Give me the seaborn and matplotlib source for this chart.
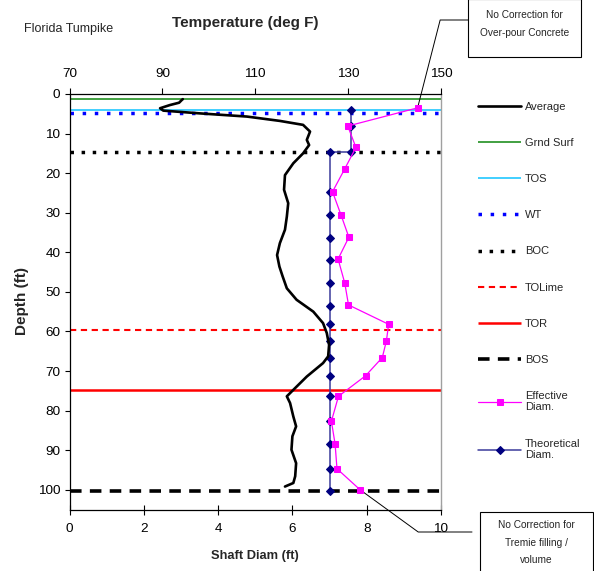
import matplotlib
matplotlib.use("Agg")
import matplotlib.pyplot as plt
import seaborn as sns
from matplotlib.patches import Rectangle

# ---------------- data ----------------
avg_temp = [94.4, 94.2, 93.6, 91.6, 89.5, 90.2, 98.1, 108.2, 115.3, 120.3, 121.8, 121.1,
            121.6, 120.3, 118.2, 116.4, 116.2, 117.1, 116.8, 116.4, 115.3, 114.7, 115.2,
            115.9, 116.8, 118.9, 122.5, 124.6, 125.4, 125.9, 125.7, 124.6, 121.1, 118.6,
            116.8, 117.5, 118.2, 118.8, 118.0, 117.8, 118.8, 118.6, 118.2, 116.4]
avg_depth = [1.3, 1.5, 2.2, 2.8, 3.6, 4.2, 4.9, 5.7, 6.8, 7.8, 9.5, 11.6,
             12.9, 15.0, 17.5, 20.5, 24.2, 27.6, 31.0, 34.3, 37.7, 40.7, 43.6,
             46.1, 49.1, 52.0, 55.0, 57.9, 60.4, 63.4, 66.3, 68.0, 71.4, 74.3,
             76.4, 78.1, 81.5, 84.0, 86.5, 89.9, 93.3, 96.6, 98.3, 99.2]

eff_depth = [3.5, 8.1, 13.5, 18.9, 24.7, 30.6, 36.2, 41.7, 47.8, 53.3,
             58.2, 62.4, 66.6, 71.2, 76.4, 82.7, 88.5, 94.7, 100.0]
eff_diam = [9.37, 7.49, 7.71, 7.41, 7.08, 7.31, 7.52, 7.23, 7.41, 7.51,
            8.59, 8.53, 8.42, 7.97, 7.24, 7.05, 7.15, 7.20, 7.82]

theo_depth = [4.0, 8.2, 14.6, 14.6, 24.8, 30.7, 36.3, 41.9, 47.8, 53.5,
              58.2, 62.5, 66.7, 71.3, 76.4, 82.7, 88.5, 94.7, 100.2]
theo_diam = [7.58, 7.58, 7.58, 7.0, 7.0, 7.0, 7.0, 7.0, 7.0, 7.0,
             7.0, 7.0, 7.0, 7.0, 7.0, 7.0, 7.0, 7.0, 7.0]

ref_names = ["Grnd Surf", "TOS", "WT", "BOC", "TOLime", "TOR", "BOS"]
ref_depths = [1.2, 4.0, 4.9, 14.6, 59.6, 74.7, 100.3]

temp_ticks = [70, 90, 110, 130, 150]
diam_ticks = [0, 2, 4, 6, 8, 10]
depth_ticks = [0, 10, 20, 30, 40, 50, 60, 70, 80, 90, 100]

# ---------------- styling ----------------
sns.set_style("white")
plt.rcParams["font.family"] = ["Liberation Sans", "DejaVu Sans"]

W, H = 594, 571
fig = plt.figure(figsize=(W / 100, H / 100), dpi=100)
L, R, T, B = 69.5, 441, 94, 509.5
ax = fig.add_axes([L / W, 1 - B / H, (R - L) / W, (B - T) / H])
ax2 = ax.twiny()

ref_styles = {
    "Grnd Surf": dict(color="#339933", lw=1.3, ls="-"),
    "TOS": dict(color="#33CCFF", lw=1.3, ls="-"),
    "WT": dict(color="#0000FF", lw=2.5, ls=(0, (1, 2.5))),
    "BOC": dict(color="#000000", lw=2.5, ls=(0, (1, 2.2))),
    "TOLime": dict(color="#FF0000", lw=1.5, ls=(0, (3, 2.2))),
    "TOR": dict(color="#FF0000", lw=1.8, ls="-"),
    "BOS": dict(color="#000000", lw=2.6, ls=(0, (3.2, 2.3))),
}

handles = {}
for name, d in zip(ref_names, ref_depths):
    st = ref_styles[name]
    handles[name] = ax.axhline(d, color=st["color"], lw=st["lw"], ls=st["ls"],
                               dash_capstyle="butt", solid_capstyle="butt", zorder=2)

sns.lineplot(x=theo_diam, y=theo_depth, ax=ax, sort=False, estimator=None,
             color="#3B3B9B", lw=1.1, marker="D", markersize=4.2,
             markerfacecolor="#000080", markeredgecolor="#000080", zorder=4)
handles["Theoretical\nDiam."] = ax.lines[-1]
sns.lineplot(x=eff_diam, y=eff_depth, ax=ax, sort=False, estimator=None,
             color="#FF00FF", lw=0.9, marker="s", markersize=4.6,
             markerfacecolor="#FF00FF", markeredgecolor="#FF00FF", zorder=5)
handles["Effective\nDiam."] = ax.lines[-1]

sns.lineplot(x=avg_temp, y=avg_depth, ax=ax2, sort=False, estimator=None,
             color="black", lw=1.9, zorder=6)
handles["Average"] = ax2.lines[-1]

ax.set_xlim(0, 10)
ax.set_ylim(105, 0)
ax2.set_xlim(70, 150)
ax.set_xticks(diam_ticks)
ax.set_xticklabels([str(v) for v in diam_ticks])
ax.set_yticks(depth_ticks)
ax.set_yticklabels([str(v) for v in depth_ticks])
ax2.set_xticks(temp_ticks)
ax2.set_xticklabels([str(v) for v in temp_ticks])

for s in ["left", "bottom"]:
    ax.spines[s].set_color("black")
    ax.spines[s].set_linewidth(0.9)
ax.spines["top"].set_visible(False)
ax.spines["right"].set_color("#A0A0A0")
ax.spines["right"].set_linewidth(1.0)
for s in ["left", "bottom", "right"]:
    ax2.spines[s].set_visible(False)
ax2.spines["top"].set_color("black")
ax2.spines["top"].set_linewidth(0.9)

ax.tick_params(axis="x", direction="inout", length=7, width=0.8, labelsize=9.7,
               pad=6, colors="black", bottom=True)
ax.tick_params(axis="y", direction="out", length=3.5, width=0.8, labelsize=9.7,
               pad=3, colors="black", left=True)
ax2.tick_params(axis="x", direction="out", length=4, width=0.8, labelsize=9.7,
                pad=6, colors="black", top=True)
ax.grid(False)
ax2.grid(False)

ax.set_xlabel("Shaft Diam (ft)", fontsize=9.3, fontweight="bold")
ax.xaxis.label.set_va("center")
ax.xaxis.set_label_coords(0.5, (B - 556) / (B - T))
ax.set_ylabel("Depth (ft)", fontsize=11, fontweight="bold")
ax.yaxis.label.set_va("center")
ax.yaxis.set_label_coords((22 - L) / (R - L), (B - 301) / (B - T))
ax2.set_xlabel("Temperature (deg F)", fontsize=11, fontweight="bold")
ax2.xaxis.label.set_va("center")
ax2.xaxis.set_label_coords((245 - L) / (R - L), (B - 23) / (B - T))

fig.text(24 / W, 1 - 29 / H, "Florida Tumpike", fontsize=9, ha="left", va="center")

# legend
order = ["Average", "Grnd Surf", "TOS", "WT", "BOC", "TOLime", "TOR", "BOS",
         "Effective\nDiam.", "Theoretical\nDiam."]
fig.legend([handles[k] for k in order], order, loc="upper left",
           bbox_to_anchor=(478 / W, 1 - 102 / H), bbox_transform=fig.transFigure,
           frameon=False, fontsize=8, handlelength=3.9, handletextpad=0.3,
           labelspacing=2.35, borderpad=0, borderaxespad=0)

# annotation boxes
fig.patches.append(Rectangle((468 / W, 1 - 57 / H), 113 / W, 58 / H,
                             transform=fig.transFigure, fill=False,
                             ec="black", lw=0.8))
fig.text(524.5 / W, 1 - 15 / H, "No Correction for", fontsize=7.3, ha="center", va="center")
fig.text(524.5 / W, 1 - 33 / H, "Over-pour Concrete", fontsize=7.3, ha="center", va="center")

fig.patches.append(Rectangle((480 / W, 1 - 575 / H), 113 / W, 63 / H,
                             transform=fig.transFigure, fill=False,
                             ec="black", lw=0.8))
fig.text(536.5 / W, 1 - 525 / H, "No Correction for", fontsize=7.3, ha="center", va="center")
fig.text(536.5 / W, 1 - 543 / H, "Tremie filling /", fontsize=7.3, ha="center", va="center")
fig.text(536.5 / W, 1 - 560 / H, "volume", fontsize=7.3, ha="center", va="center")

ax.annotate("", xy=(eff_diam[0], eff_depth[0]), xycoords="data",
            xytext=(468, H - 20), textcoords="figure pixels", annotation_clip=False,
            arrowprops=dict(arrowstyle="-", color="black", lw=0.7, shrinkA=0, shrinkB=0,
                            connectionstyle="angle,angleA=0,angleB=75.6,rad=0"))
ax.annotate("", xy=(eff_diam[-1], eff_depth[-1]), xycoords="data",
            xytext=(472, H - 532), textcoords="figure pixels", annotation_clip=False,
            arrowprops=dict(arrowstyle="-", color="black", lw=0.7, shrinkA=0, shrinkB=0,
                            connectionstyle="angle,angleA=0,angleB=-36,rad=0"))

fig.savefig("out.png", dpi=100)
